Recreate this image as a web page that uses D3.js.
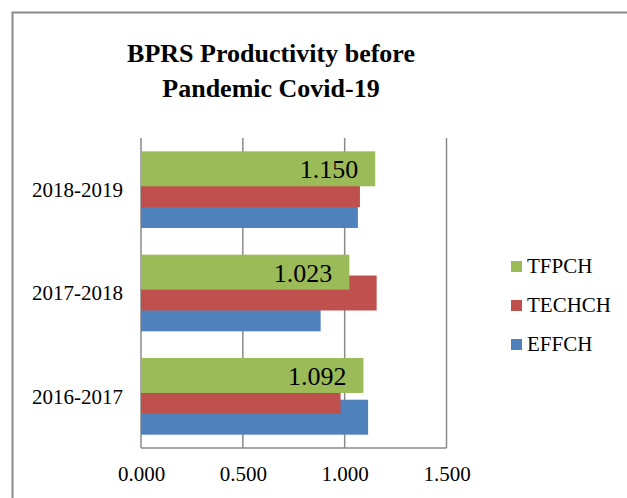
<!DOCTYPE html>
<html>
<head>
<meta charset="utf-8">
<script src="https://cdn.jsdelivr.net/npm/d3@7"></script>
<style>
  html, body { margin: 0; padding: 0; background: #fff; }
  svg { display: block; }
</style>
</head>
<body>
<svg id="chart" width="627" height="498"></svg>
<script>
const categories = ["2018-2019", "2017-2018", "2016-2017"];
const seriesNames = ["TFPCH", "TECHCH", "EFFCH"];
const TFPCH = [1.150, 1.023, 1.092];
const TECHCH = [1.075, 1.157, 0.980];
const EFFCH = [1.065, 0.882, 1.115];
const tickValues = [0, 0.5, 1.0, 1.5];
const tickLabels = ["0.000", "0.500", "1.000", "1.500"];
const colors = { TFPCH: "#9BBB59", TECHCH: "#C0504D", EFFCH: "#4F81BD" };
const titleLines = ["BPRS Productivity before", "Pandemic Covid-19"];

const seriesValues = { TFPCH, TECHCH, EFFCH };
const SERIF = "Liberation Serif";

const svg = d3.select("#chart");

// outer frame
svg.append("rect")
  .attr("x", 12.5).attr("y", 12.5)
  .attr("width", 700).attr("height", 600)
  .attr("fill", "none").attr("stroke", "#8a8a8a").attr("stroke-width", 2);

// title
titleLines.forEach((line, i) => {
  svg.append("text")
    .attr("font-family", SERIF)
    .attr("text-anchor", "middle")
    .attr("font-size", 26).attr("font-weight", "bold")
    .attr("fill", "#000")
    .attr("x", 271)
    .attr("y", 62 + i * 35)
    .text(line);
});

const plot = { left: 141, right: 446.5, top: 138, bottom: 448 };

const x = d3.scaleLinear().domain([0, 1.5]).range([plot.left, plot.right]);
const y = d3.scaleBand().domain(categories).range([plot.top, plot.bottom])
  .paddingInner(0.258).paddingOuter(0.129);

const group = y.bandwidth();
const barH = group * 0.456;
const step = (group - barH) / 2;
const offsetIndex = { TFPCH: 0, TECHCH: 1, EFFCH: 2 };

// gridlines
svg.append("g").selectAll("line").data(tickValues).join("line")
  .attr("x1", d => x(d)).attr("x2", d => x(d))
  .attr("y1", plot.top).attr("y2", plot.bottom)
  .attr("stroke", "#8a8a8a").attr("stroke-width", 1.5);

// bars: draw EFFCH, then TECHCH, then TFPCH on top
const drawOrder = ["EFFCH", "TECHCH", "TFPCH"];
drawOrder.forEach(name => {
  svg.append("g").selectAll("rect")
    .data(categories.map((c, i) => ({ c, v: seriesValues[name][i] })))
    .join("rect")
    .attr("x", x(0))
    .attr("y", d => y(d.c) + offsetIndex[name] * step)
    .attr("width", d => x(d.v) - x(0))
    .attr("height", barH)
    .attr("fill", colors[name]);
});

// data labels for TFPCH
svg.append("g").selectAll("text")
  .data(categories.map((c, i) => ({ c, v: TFPCH[i] })))
  .join("text")
  .attr("font-family", SERIF)
  .attr("x", d => x(d.v) - 17)
  .attr("y", d => y(d.c) + barH / 2)
  .attr("dy", "0.36em")
  .attr("text-anchor", "end")
  .attr("font-size", 26)
  .attr("fill", "#000")
  .text(d => d3.format(".3f")(d.v));

// x axis line
svg.append("line")
  .attr("x1", plot.left).attr("x2", plot.right)
  .attr("y1", plot.bottom).attr("y2", plot.bottom)
  .attr("stroke", "#8a8a8a").attr("stroke-width", 1.5);

// x tick labels
const xAxis = d3.axisBottom(x).tickValues(tickValues)
  .tickFormat((d, i) => tickLabels[i]).tickSize(0).tickPadding(0);
const gx = svg.append("g").attr("transform", `translate(0,${plot.bottom})`).call(xAxis);
gx.select(".domain").remove();
gx.attr("font-family", SERIF);
gx.selectAll("text")
  .attr("font-family", SERIF)
  .attr("font-size", 21).attr("fill", "#000")
  .attr("dy", null).attr("y", 33);

// y category labels
const yAxis = d3.axisLeft(y).tickSize(0).tickPadding(0);
const gy = svg.append("g").attr("transform", `translate(123,0)`).call(yAxis);
gy.select(".domain").remove();
gy.attr("font-family", SERIF);
gy.selectAll("text")
  .attr("font-family", SERIF)
  .attr("font-size", 21).attr("fill", "#000")
  .attr("x", 0).attr("dy", "0.35em");

// legend
const legend = svg.append("g").selectAll("g").data(seriesNames).join("g")
  .attr("transform", (d, i) => `translate(511,${261 + i * 39})`);
legend.append("rect").attr("width", 11).attr("height", 11)
  .attr("fill", d => colors[d]);
legend.append("text").attr("x", 16).attr("y", 12)
  .attr("font-family", SERIF)
  .attr("font-size", 21).attr("fill", "#000").text(d => d);
</script>
</body>
</html>
